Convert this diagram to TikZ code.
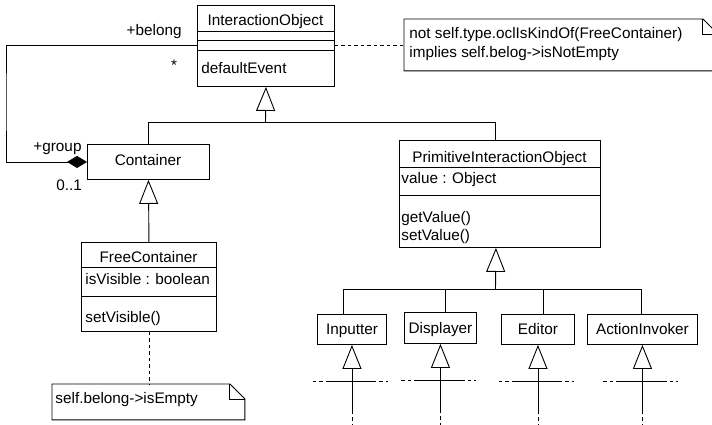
\documentclass[tikz,border=0pt]{standalone}
\usepackage{fontspec}
\setmainfont{Liberation Sans}
\usetikzlibrary{arrows.meta}

\tikzset{
  umlbox/.style={draw, line width=0.9pt, inner sep=0pt, anchor=north west},
  umltext/.style={inner sep=0pt, font=\fontsize{15.3}{19}\selectfont},
  childbox/.style={umlbox, umltext, text height=11pt, text depth=0pt},
  genline/.style={line width=0.9pt, -{Triangle[open, length=24pt, width=19pt]}},
  compline/.style={line width=0.9pt, -{Diamond[length=20pt, width=12pt]}},
  noteline/.style={line width=0.9pt, dash pattern=on 3.5pt off 3pt},
  notearea/.style={inner sep=0pt, anchor=north west},
}

\begin{document}
\begin{tikzpicture}[x=1pt, y=-1pt, line width=0.9pt]
            \useasboundingbox (0,0) rectangle (712,425);

            % Class InteractionObject
            \node [umlbox, minimum width=137pt, minimum height=81pt] (io) at (197,5) {};
            \draw (197,31) -- (334,31);%
            \draw (197,40) -- (334,40);%
            \draw (197,50) -- (334,50);%
            \node [umltext, anchor=base] (ioname) at (265.5,26) {InteractionObject};
            \node [umltext, anchor=base west] (ioop) at (201,74) {defaultEvent};

            % Class Container
            \node [umlbox, minimum width=122pt, minimum height=35pt] (cont) at (87,144) {};
            \node [umltext, anchor=base] (contname) at (148,165) {Container};

            % Class FreeContainer
            \node [umlbox, minimum width=135pt, minimum height=89pt] (free) at (81,242) {};
            \draw (81,267) -- (216,267);%
            \draw (81,296) -- (216,296);%
            \node [umltext, anchor=base] (freename) at (148.5,262) {FreeContainer};
            \node [umltext, anchor=base west] (freeattr) at (85,284) {isVisible : boolean};
            \node [umltext, anchor=base west] (freeop) at (85,322) {setVisible()};

            % Class PrimitiveInteractionObject
            \node [umlbox, minimum width=201pt, minimum height=107pt] (pio) at (399,140) {};
            \draw (399,167) -- (600,167);%
            \draw (399,195) -- (600,195);%
            \node [umltext, anchor=base] (pioname) at (499.5,162) {PrimitiveInteractionObject};
            \node [umltext, anchor=base west] (pioattr) at (401,183) {value : Object};
            \node [umltext, anchor=base west] (pioget) at (401,222) {getValue()};
            \node [umltext, anchor=base west] (pioset) at (401,240) {setValue()};

            % Subclasses of PrimitiveInteractionObject
            \node [childbox, minimum width=69pt, minimum height=30pt] (inp) at (317,314) {Inputter};
            \node [childbox, minimum width=72pt, minimum height=31pt] (disp) at (404,312) {Displayer};
            \node [childbox, minimum width=73pt, minimum height=30pt] (edit) at (501,314) {Editor};
            \node [childbox, minimum width=110pt, minimum height=30pt] (act) at (587,314) {ActionInvoker};

            % Note on InteractionObject
            \node [notearea, minimum width=313pt, minimum height=51pt] (oclnote) at (404,19) {};
            \draw (oclnote.north west) -- ([xshift=-15pt]oclnote.north east)
                  -- ([yshift=-15pt]oclnote.north east) -- (oclnote.south east)
                  -- (oclnote.south west) -- cycle;%
            \draw ([xshift=-15pt]oclnote.north east) -- ++(0,15) -- ++(15,0);%
            \node [umltext, anchor=base west] (oclline) at (409,39) {not self.type.oclIsKindOf(FreeContainer)};
            \node [umltext, anchor=base west] (oclimpl) at (409,58) {implies self.belog->isNotEmpty};

            % Note on FreeContainer
            \node [notearea, minimum width=192pt, minimum height=35pt] (visnote) at (52,384) {};
            \draw (visnote.north west) -- ([xshift=-15pt]visnote.north east)
                  -- ([yshift=-15pt]visnote.north east) -- (visnote.south east)
                  -- (visnote.south west) -- cycle;%
            \draw ([xshift=-15pt]visnote.north east) -- ++(0,15) -- ++(15,0);%
            \node [umltext, anchor=base west] (visline) at (55,403) {self.belong->isEmpty};

            % Drawing note links
            \draw [noteline] (io.east) -- (io.east -| oclnote.west);%
            \draw [noteline] (free.south) -- (free.south |- visnote.north);%

            % Drawing association belong / group
            \coordinate (loopcorner) at (6,100);
            \draw [compline] (io.west) -| (loopcorner) |- (cont.west);%
            \node [umltext, anchor=base east] (belonglbl) at (182,36) {+belong};
            \node [umltext, anchor=base] (manylbl) at (174,71) {*};
            \node [umltext, anchor=base west] (grouplbl) at (33,152) {+group};
            \node [umltext, anchor=base west] (onelbl) at (56,190) {0..1};

            % Drawing generalization to InteractionObject
            \coordinate (iojoin) at (265.5,122);
            \draw [genline] (iojoin) -- (io.south);%
            \draw (cont.north) |- (iojoin);%
            \draw ([xshift=-4.5pt]pio.north) |- (iojoin);%

            % Drawing generalization to Container
            \draw [genline] (free.north) -- (cont.south);%

            % Drawing generalization to PrimitiveInteractionObject
            \coordinate (piojoin) at (495.5,289);
            \draw [genline] (piojoin) -- ([xshift=-4pt]pio.south);%
            \foreach \c/\dx in {inp/-8.5, disp/5, edit/5.5, act/-1}
              \draw ([xshift=\dx pt]\c.north) |- (piojoin);%

            % Drawing hidden subclasses below each subclass
            \foreach \c in {inp,disp,edit,act}{
              \draw [genline] ([yshift=-66pt]\c.south) -- (\c.south);%
              \draw [noteline] ([yshift=-66pt]\c.south) -- ([yshift=-82pt]\c.south);%
              \draw ([shift={(-25pt,-37pt)}]\c.south) -- ([shift={(21pt,-37pt)}]\c.south);%
              \draw [noteline] ([shift={(-39pt,-37pt)}]\c.south) -- ([shift={(-25pt,-37pt)}]\c.south);%
              \draw [noteline] ([shift={(21pt,-37pt)}]\c.south) -- ([shift={(36pt,-37pt)}]\c.south);%
            }
\end{tikzpicture}
\end{document}
